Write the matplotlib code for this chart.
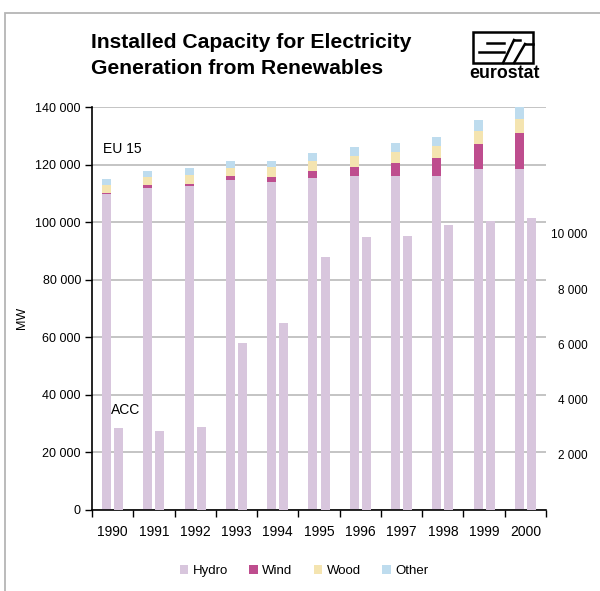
import matplotlib
matplotlib.use("Agg")
import matplotlib.pyplot as plt
from matplotlib.patches import Rectangle
from matplotlib.lines import Line2D
from matplotlib.ticker import FuncFormatter, FixedLocator
import numpy as np

plt.rcParams['font.family'] = ['Liberation Sans', 'DejaVu Sans']

years = ["1990", "1991", "1992", "1993", "1994", "1995",
         "1996", "1997", "1998", "1999", "2000"]

# EU 15 installed capacity by source (MW), left scale
eu_hydro = [109800, 111800, 112500, 114600, 113900, 115300,
            116000, 116000, 116000, 118400, 118400]
eu_wind = [450, 1040, 800, 1400, 1700, 2400, 3100, 4500, 6200, 8700, 12500]
eu_wood = [2600, 2760, 3000, 2700, 3500, 3500, 3900, 3800, 4200, 4500, 4800]
eu_other = [2100, 2100, 2400, 2500, 2100, 2800, 3000, 3100, 3100, 3800, 4300]

# ACC hydro capacity (MW), right scale
acc_hydro = [2970, 2860, 3010, 6050, 6780, 9170, 9890, 9930, 10330, 10460, 10580]

left_ticks = [0, 20000, 40000, 60000, 80000, 100000, 120000, 140000]
right_ticks = [2000, 4000, 6000, 8000, 10000]

c_hydro = "#d8c6dd"
c_wind = "#be4d8e"
c_wood = "#f4e4b0"
c_other = "#bedcee"

W, H = 600, 591


def fx(px):
    return px / W


def fy(py):
    return 1 - py / H


def thousands(v, pos):
    return f"{int(v):,}".replace(",", " ")


fig = plt.figure(figsize=(6, 5.91), dpi=100)

# outer frame
fig.patches.append(Rectangle((fx(5), fy(700)), fx(700), fy(13) - fy(700),
                             transform=fig.transFigure, fill=False,
                             edgecolor="#b5b5b5", linewidth=1.3))

ax = fig.add_axes([fx(92), fy(510), fx(546) - fx(92), fy(107) - fy(510)])

x = np.arange(len(years))
bw = 0.218
off = 0.147

b_eu = np.zeros(len(years))
hydro_bars = ax.bar(x - off, eu_hydro, bw, color=c_hydro, label="Hydro", zorder=2)
b_eu += eu_hydro
wind_bars = ax.bar(x - off, eu_wind, bw, bottom=b_eu, color=c_wind, label="Wind", zorder=2)
b_eu += eu_wind
wood_bars = ax.bar(x - off, eu_wood, bw, bottom=b_eu, color=c_wood, label="Wood", zorder=2)
b_eu += eu_wood
other_bars = ax.bar(x - off, eu_other, bw, bottom=b_eu, color=c_other, label="Other", zorder=2)

ax.set_xlim(-0.5, len(years) - 0.5)
ax.set_ylim(0, 140000)
ax.set_yticks(left_ticks)
ax.yaxis.set_major_formatter(FuncFormatter(thousands))
ax.yaxis.grid(True, color="#b4b4b4", linewidth=1.1, zorder=0)
ax.set_axisbelow(True)
ax.tick_params(axis="y", direction="out", length=5, width=1, labelsize=9, pad=3,
               color="black")

ax.xaxis.set_major_locator(FixedLocator(np.arange(-0.5, len(years), 1.0)))
ax.xaxis.set_minor_locator(FixedLocator(x))
ax.set_xticklabels([], minor=False)
ax.set_xticklabels(years, minor=True)
ax.tick_params(axis="x", which="major", direction="out", length=5, width=1)
ax.tick_params(axis="x", which="minor", length=0, labelsize=10, pad=11)

for s in ("top", "right"):
    ax.spines[s].set_visible(False)
ax.spines["left"].set_linewidth(1.2)
ax.spines["bottom"].set_linewidth(1.2)

fig.text(fx(22), fy(318), "MW", rotation=90, ha="center", va="center", fontsize=9)

ax.text(0.025, 0.896, "EU 15", transform=ax.transAxes, fontsize=10, va="center")

# ACC on secondary scale
ax2 = ax.twinx()
ax2.bar(x + off, acc_hydro, bw, color=c_hydro, zorder=2)
ax2.set_ylim(0, 14600)
ax2.set_yticks(right_ticks)
ax2.yaxis.set_major_formatter(FuncFormatter(thousands))
ax2.tick_params(axis="y", length=0, labelsize=8.5, pad=30)
for lab in ax2.get_yticklabels():
    lab.set_horizontalalignment("right")
for s in ax2.spines.values():
    s.set_visible(False)
ax2.set_xlim(-0.5, len(years) - 0.5)

fig.text(fx(111), fy(410), "ACC", fontsize=10, va="center")

# title
fig.text(fx(91), fy(48.5), "Installed Capacity for Electricity", fontsize=15.2,
         fontweight="bold", va="baseline", ha="left")
fig.text(fx(91), fy(74.5), "Generation from Renewables", fontsize=15.2,
         fontweight="bold", va="baseline", ha="left")

# logo
fig.patches.append(Rectangle((fx(473), fy(63)), fx(533) - fx(473), fy(32) - fy(63),
                             transform=fig.transFigure, fill=False,
                             edgecolor="black", linewidth=1.8))
logo_lines = [
    [(487, 43), (504, 43)],
    [(479, 52), (504, 52)],
    [(503, 63), (514, 40)],
    [(514, 40), (520, 40)],
    [(514, 63), (525, 44)],
    [(525, 44), (533, 44)],
]
for seg in logo_lines:
    (x0, y0), (x1, y1) = seg
    fig.add_artist(Line2D([fx(x0), fx(x1)], [fy(y0), fy(y1)],
                          transform=fig.transFigure, color="black", linewidth=1.8))
fig.text(fx(505), fy(77.5), "eurostat", fontsize=12.8, fontweight="bold",
         ha="center", va="baseline")

# legend
handles = [hydro_bars, wind_bars, wood_bars, other_bars]
labels = ["Hydro", "Wind", "Wood", "Other"]
fig.legend(handles, labels, loc="center", bbox_to_anchor=(fx(304), fy(571)),
           ncol=4, frameon=False, fontsize=9.5, handlelength=0.65,
           handleheight=0.65, handletextpad=0.35, columnspacing=1.6)

fig.savefig("out.png", dpi=100)
